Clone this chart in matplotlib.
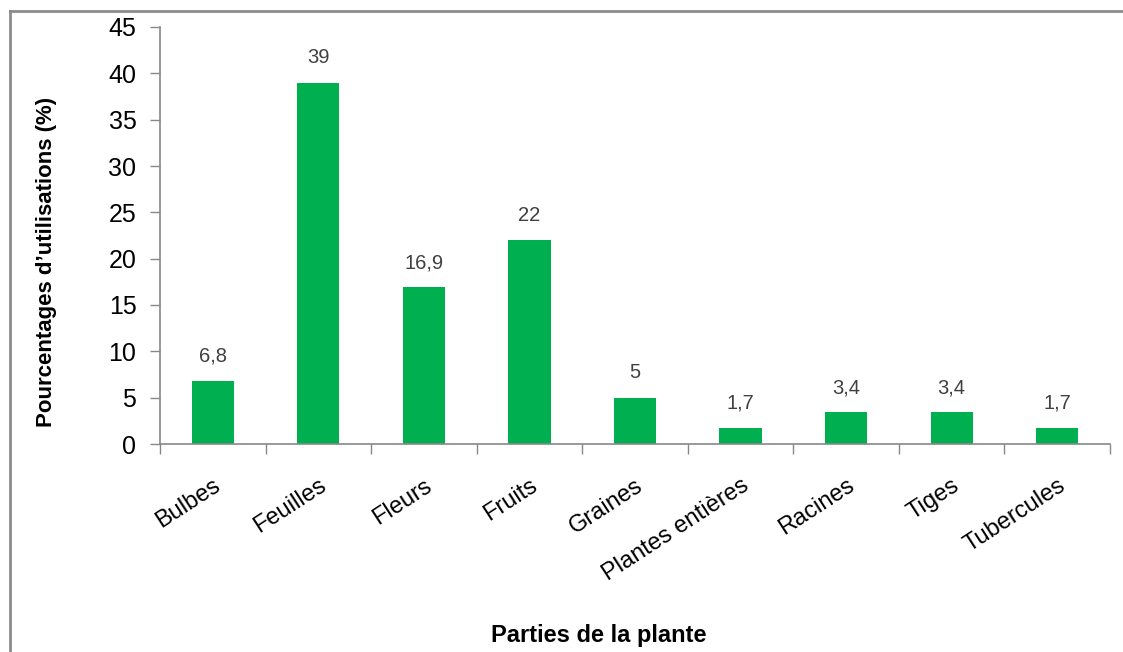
import matplotlib
matplotlib.use("Agg")
import matplotlib.pyplot as plt
from matplotlib.lines import Line2D

plt.rcParams['font.family'] = ['Liberation Sans', 'DejaVu Sans']

categories = ["Bulbes", "Feuilles", "Fleurs", "Fruits", "Graines",
              "Plantes entières", "Racines", "Tiges", "Tubercules"]
values = [6.8, 39, 16.9, 22, 5, 1.7, 3.4, 3.4, 1.7]
yticks = [0, 5, 10, 15, 20, 25, 30, 35, 40, 45]

W, H = 1123, 652
fig = plt.figure(figsize=(W / 100, H / 100), dpi=100)
ax = fig.add_axes([160 / W, 1 - 444 / H, (1110 - 160) / W, (444 - 27) / H])

x = list(range(len(categories)))
ax.bar(x, values, width=0.4, color="#00B050", edgecolor="none", zorder=2)

for xi, v in zip(x, values):
    label = f"{v:g}".replace(".", ",")
    ax.annotate(label, (xi, v), xytext=(0, 11), textcoords="offset points",
                ha="center", va="bottom", fontsize=14.5, color="#404040")

ax.set_xlim(-0.5, len(categories) - 0.5)
ax.set_ylim(0, 45)
ax.set_yticks(yticks)
ax.set_yticklabels([str(t) for t in yticks], fontsize=18)

ax.set_xticks(x)
ax.set_xticklabels(categories, rotation=33, ha="right", rotation_mode="anchor",
                   fontsize=17)
ax.tick_params(axis="x", length=0, pad=22)
# category boundary ticks
ax.set_xticks([i - 0.5 for i in range(len(categories) + 1)], minor=True)
ax.tick_params(axis="x", which="minor", length=7, color="#888888", width=1)
ax.tick_params(axis="y", length=7, color="#888888", width=1, pad=10)

for s in ["top", "right"]:
    ax.spines[s].set_visible(False)
for s in ["left", "bottom"]:
    ax.spines[s].set_color("#888888")
    ax.spines[s].set_linewidth(1.2)

ax.set_ylabel("Pourcentages d\u2019utilisations (%)", fontsize=16,
              fontweight="bold")
ax.yaxis.set_label_coords(-(160 - 57) / (1110 - 160), (444 - 262) / (444 - 27))
ax.set_xlabel("Parties de la plante", fontsize=17, fontweight="bold")
ax.xaxis.set_label_coords((599 - 160) / (1110 - 160), -(624 - 444) / (444 - 27))

# outer frame (top and left edges)
fig.add_artist(Line2D([10 / W, 1.0], [1 - 11 / H, 1 - 11 / H], color="#8c8c8c",
                      linewidth=2, transform=fig.transFigure))
fig.add_artist(Line2D([10 / W, 10 / W], [0, 1 - 11 / H], color="#8c8c8c",
                      linewidth=2, transform=fig.transFigure))

fig.savefig("out.png", dpi=100)
